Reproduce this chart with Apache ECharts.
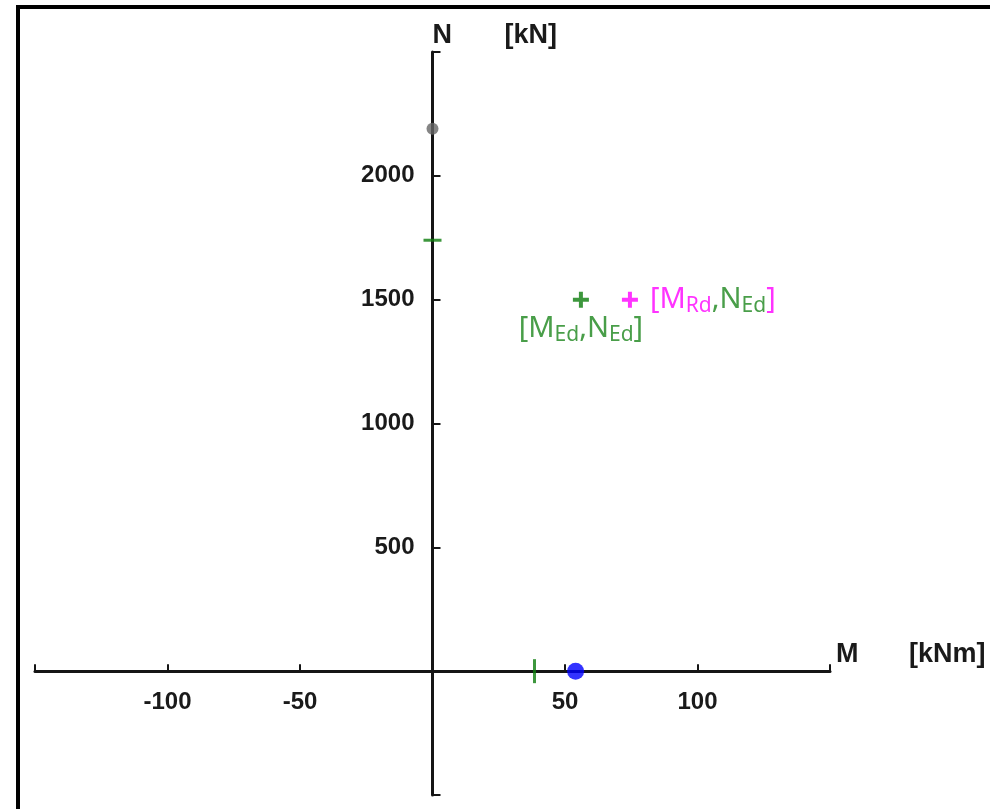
<!DOCTYPE html>
<html><head><meta charset="utf-8">
<script src="https://cdn.jsdelivr.net/npm/echarts@6/dist/echarts.min.js"></script>
<style>html,body{margin:0;padding:0;background:#fff}#c{width:990px;height:809px}</style>
</head><body><div id="c"></div>
<script>
// Axis ranges (M in kNm, N in kN)
const mRange = [-150, 150];
const nRange = [-500, 2500];
const mInterval = 50;
const nInterval = 500;
// Points
const edPoint = [[56, 1500]];      // [M_Ed, N_Ed]
const rdPoint = [[74.5, 1500]];    // [M_Rd, N_Ed]
const nMaxPoint = [[0, 2190]];     // grey dot on N axis
const nLimitPoint = [[0, 1740]];   // green dash on N axis
const mLimitPoint = [[38.5, 0]];   // green dash on M axis
const mPoint = [[54, 0]];          // blue dot on M axis

const green = '#0d7d0d', greenTxt = '#1c861c', magenta = '#ff00ff';
const plus = 'path://M-2,-8H2V-2H8V2H2V8H-2V2H-8V-2H-2Z';
const tickFont = {fontFamily:'Liberation Sans, Arial', fontWeight:'bold', fontSize:24, color:'#1a1a1a'};
const lblFont = 'Noto Sans, Liberation Sans';
const titleStyle = {fontFamily:'Liberation Sans, Arial', fontWeight:'bold', fontSize:27, color:'#1a1a1a'};

const chart = echarts.init(document.getElementById('c'));
chart.setOption({
  animation:false,
  grid:{left:35, right:160, top:52, bottom:14, containLabel:false, outerBoundsMode:'none'},
  xAxis:{type:'value', min:mRange[0], max:mRange[1], interval:mInterval, position:'bottom',
    axisLine:{onZero:false, lineStyle:{color:'#151515', width:3}},
    axisTick:{inside:true, length:7, lineStyle:{color:'#151515', width:2}},
    splitLine:{show:false},
    axisLabel:Object.assign({margin:19, formatter:v=> (v===0||v===mRange[0]||v===mRange[1])?'':String(v)}, tickFont),
    name:'{a|M}{b|[kNm]}', nameLocation:'end', nameGap:6,
    nameTextStyle:{verticalAlign:'bottom', padding:[0,0,3,0],
      rich:{a:Object.assign({width:73}, titleStyle), b:titleStyle}}
  },
  yAxis:{type:'value', min:nRange[0], max:nRange[1], interval:nInterval, position:'left',
    axisLine:{onZero:false, lineStyle:{color:'#151515', width:3}},
    axisTick:{inside:true, length:8, lineStyle:{color:'#151515', width:2}},
    splitLine:{show:false},
    axisLabel:Object.assign({margin:18, formatter:v=> (v===0||v===nRange[0]||v===nRange[1])?'':String(v)}, tickFont),
    name:'{a|N}{b|[kN]}', nameLocation:'end', nameGap:3,
    nameTextStyle:{align:'left',
      rich:{a:Object.assign({width:72}, titleStyle), b:titleStyle}}
  },
  graphic:[{type:'polyline', shape:{points:[[18,809],[18,7],[990,7]]}, style:{stroke:'#000', lineWidth:4, fill:null}}],
  series:[
    {type:'scatter', data:nMaxPoint, symbol:'circle', symbolSize:12, itemStyle:{color:'#666666'}, z:5},
    {type:'scatter', data:nLimitPoint, symbol:'rect', symbolSize:[18,3], itemStyle:{color:green}, z:5},
    {type:'scatter', data:mLimitPoint, symbol:'rect', symbolSize:[3,24], itemStyle:{color:green}, z:5},
    {type:'scatter', data:mPoint, symbol:'circle', symbolSize:17, itemStyle:{color:'#0000ff'}, z:6},
    {type:'scatter', data:edPoint, symbol:plus, symbolSize:16, itemStyle:{color:green}, z:5,
      label:{show:true, position:'bottom', distance:5,
        formatter:'{m|[M}{s|Ed}{m|,N}{s|Ed}{m|]}',
        rich:{m:{fontFamily:lblFont, fontSize:29, color:greenTxt, lineHeight:33},
              s:{fontFamily:lblFont, fontSize:21, color:greenTxt, verticalAlign:'bottom', lineHeight:25}}}},
    {type:'scatter', data:rdPoint, symbol:plus, symbolSize:16, itemStyle:{color:magenta}, z:5,
      label:{show:true, position:'right', distance:12,
        formatter:'{m|[M}{s|Rd}{g|,N}{t|Ed}{m|]}',
        rich:{m:{fontFamily:lblFont, fontSize:29, color:magenta, lineHeight:33},
              s:{fontFamily:lblFont, fontSize:21, color:magenta, verticalAlign:'bottom', lineHeight:25},
              g:{fontFamily:lblFont, fontSize:29, color:greenTxt, lineHeight:33},
              t:{fontFamily:lblFont, fontSize:21, color:greenTxt, verticalAlign:'bottom', lineHeight:25}}}}
  ]
});
// Move the axes (line, ticks and labels) onto the zero lines, using the library's own scales
const origin = chart.convertToPixel({gridIndex:0}, [0, 0]);
const corner = chart.convertToPixel({gridIndex:0}, [mRange[0], nRange[0]]);
chart.setOption({
  xAxis:{offset: -(corner[1] - origin[1])},
  yAxis:{offset: -(origin[0] - corner[0])}
});
</script></body></html>
